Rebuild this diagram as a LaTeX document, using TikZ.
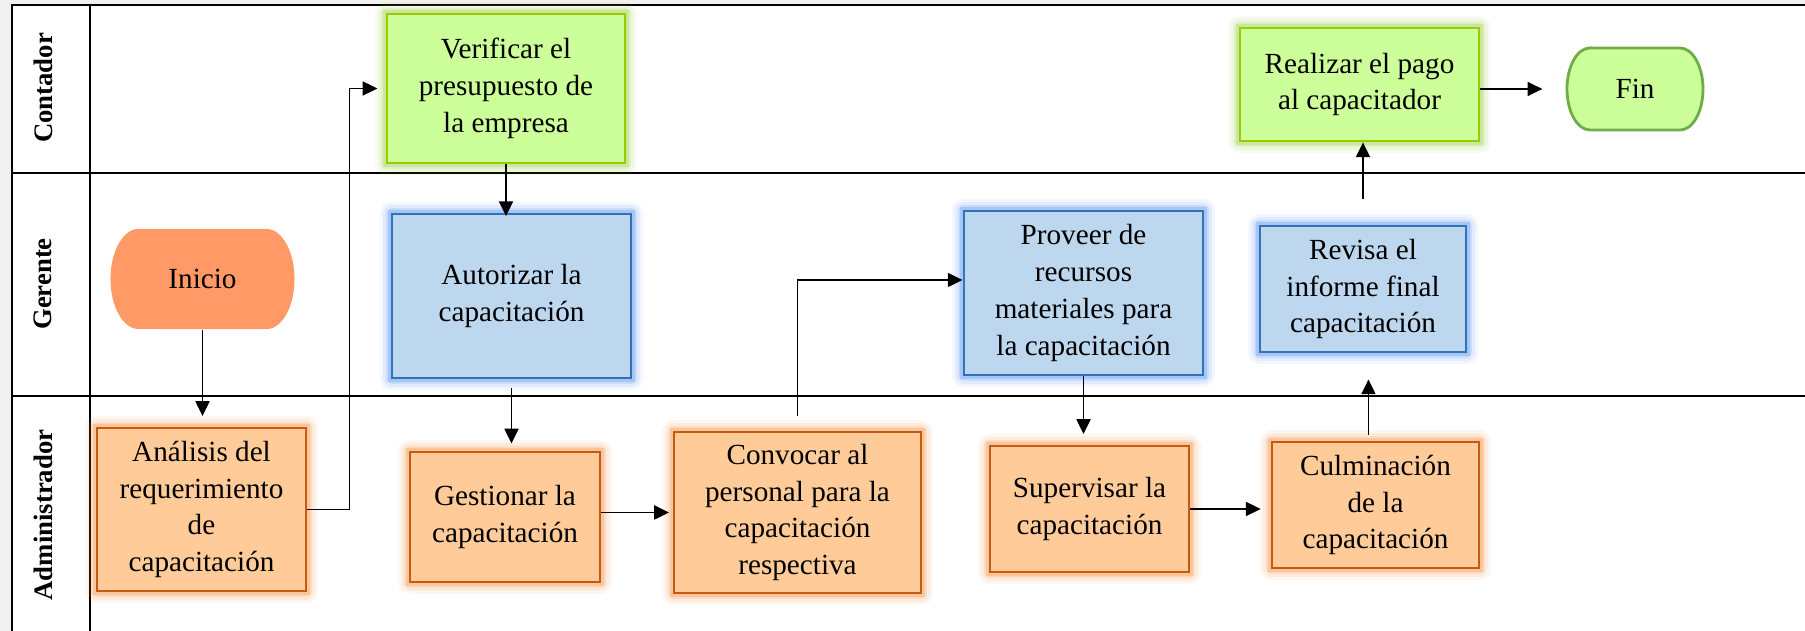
\documentclass[tikz,border=0pt]{standalone}
\usepackage{fontspec}
\setmainfont{Liberation Serif}
\usetikzlibrary{arrows.meta,positioning,calc}

\definecolor{naranja}{RGB}{255,204,153}
\definecolor{naranjaborde}{RGB}{197,90,17}
\definecolor{naranjabrillo}{RGB}{247,140,60}
\definecolor{azul}{RGB}{189,215,238}
\definecolor{azulborde}{RGB}{46,117,182}
\definecolor{azulbrillo}{RGB}{80,140,245}
\definecolor{verde}{RGB}{204,255,153}
\definecolor{verdeborde}{RGB}{153,204,0}
\definecolor{verdebrillo}{RGB}{150,210,60}
\definecolor{inicio}{RGB}{255,153,102}
\definecolor{finborde}{RGB}{112,173,71}
\definecolor{fondo}{RGB}{240,240,240}

\begin{document}
\begin{tikzpicture}
  [x=0.01cm,y=-0.01cm,
   every node/.style={font=\fontsize{8.3}{10.5}\selectfont,align=center,inner sep=0pt},
   glow/.style={preaction={draw=#1,line width=7pt,opacity=.07,line join=round},
                preaction={draw=#1,line width=5pt,opacity=.1,line join=round},
                preaction={draw=#1,line width=3.4pt,opacity=.16,line join=round},
                preaction={draw=#1,line width=2pt,opacity=.28}},
   caja/.style={rectangle,draw,line width=.8pt},
   adm/.style={caja,fill=naranja,draw=naranjaborde,glow=naranjabrillo},
   ger/.style={caja,fill=azul,draw=azulborde,glow=azulbrillo},
   con/.style={caja,fill=verde,draw=verdeborde,glow=verdebrillo},
   carril/.style={rotate=90,font=\fontsize{7.6}{9}\selectfont\bfseries},
   flecha/.style={-{Triangle[length=4.2pt,width=4pt]},line width=.45pt}]

  % fondo y carriles
  \useasboundingbox (0,0) rectangle (1805,631);
  \fill[fondo] (0,0) rectangle (1805,631);
  \fill[white] (12,5) rectangle (1805,631);
  \draw[line width=.7pt] (1805,5) -- (12,5) -- (12,631);
  \draw[line width=.7pt] (90,5) -- (90,631);
  \draw[line width=.7pt] (12,173) -- (1805,173);
  \draw[line width=.7pt] (12,396) -- (1805,396);

  \node[carril] (lc) at (43,88) {Contador};
  \node[carril] (lg) at (43,284) {Gerente};
  \node[carril] (la) at (43,515) {Administrador};

  % terminales
  \fill[inicio] (138.5,229) -- (266.5,229)
    arc[start angle=90,end angle=-90,x radius=.28cm,y radius=.5cm]
    -- (138.5,329) arc[start angle=270,end angle=90,x radius=.28cm,y radius=.5cm] -- cycle;
  \filldraw[fill=verde,draw=finborde,line width=.8pt] (1590,48) -- (1680,48)
    arc[start angle=90,end angle=-90,x radius=.23cm,y radius=.41cm]
    -- (1590,130) arc[start angle=270,end angle=90,x radius=.23cm,y radius=.41cm] -- cycle;

  \node[minimum width=1.83cm,minimum height=1cm] (g0) at (202.5,279) {Inicio};
  \node[minimum width=1.36cm,minimum height=.82cm] (c3) at (1635,89) {Fin};

  % Administrador
  \node[adm,minimum width=2.09cm,minimum height=1.63cm] (a1) at (201.5,509.5) {Análisis del\\requerimiento\\de\\capacitación};
  \node[adm,minimum width=1.9cm,minimum height=1.3cm] (a2) at (505,517) {Gestionar la\\capacitación};
  \node[adm,minimum width=2.47cm,minimum height=1.61cm] (a3) at (797.5,512.5) {Convocar al\\personal para la\\capacitación\\respectiva};
  \node[adm,minimum width=1.99cm,minimum height=1.26cm] (a4) at (1089.5,509) {Supervisar la\\capacitación};
  \node[adm,minimum width=2.07cm,minimum height=1.26cm] (a5) at (1375.5,505) {Culminación\\de la\\capacitación};

  % Gerente
  \node[ger,minimum width=2.39cm,minimum height=1.64cm] (g1) at (511.5,296) {Autorizar la\\capacitación};
  \node[ger,minimum width=2.39cm,minimum height=1.64cm] (g2) at (1083.5,293) {Proveer de\\recursos\\materiales para\\la capacitación};
  \node[ger,minimum width=2.06cm,minimum height=1.26cm] (g3) at (1363,289) {Revisa el\\informe final\\capacitación};

  % Contador
  \node[con,minimum width=2.38cm,minimum height=1.49cm] (c1) at (506,88.5) {Verificar el\\presupuesto de\\la empresa};
  \node[con,minimum width=2.39cm,minimum height=1.13cm] (c2) at (1359.5,84.5) {Realizar el pago\\al capacitador};

  % flujo
  \foreach \from/\to/\s in {g0/a1/3pt, c1/g1/-1pt, g2/a4/3pt}
    \draw[flecha,shorten >=\s] (\from.south) -- (\from.south |- \to.north);
  \draw[flecha,shorten <=2.5pt,shorten >=2pt] (g1.south) -- (g1.south |- a2.north);
  \draw[flecha,shorten >=2.3pt] (a1.east) -- ++(42,0) |- (c1.west);
  \draw[flecha,shorten >=1pt] (a2.east |- a3.west) -- (a3.west);
  \draw[flecha,shorten <=4pt] (a3.north) |- ([yshift=3.7pt]g2.west);
  \draw[flecha,shorten >=2.8pt] (a4.east) -- (a4.east -| a5.west);
  \draw[flecha,shorten <=1.7pt,shorten >=7.4pt] ([xshift=-2pt]a5.north) -- ([xshift=-2pt]a5.north |- g3.south);
  \draw[flecha,shorten <=7.4pt] (g3.north) -- (g3.north |- c2.south);
  \draw[flecha,shorten >=6.8pt] (c2.east |- c3.west) -- (c3.west);
\end{tikzpicture}
\end{document}
